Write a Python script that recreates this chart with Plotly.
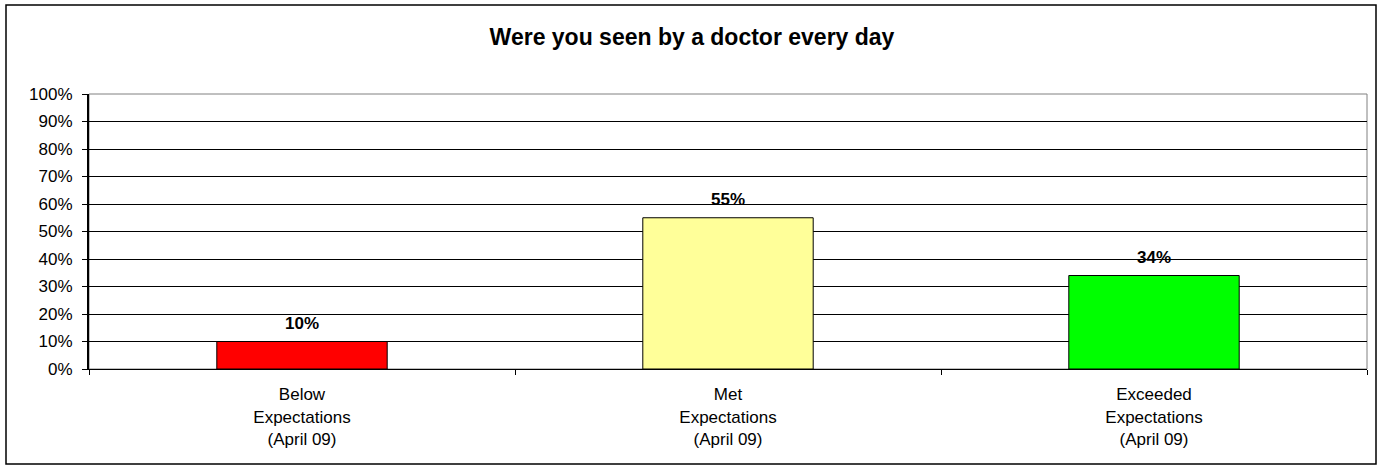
import plotly.graph_objects as go

# Survey results for one question
categories = [
    "Below<br>Expectations<br>(April 09)",
    "Met<br>Expectations<br>(April 09)",
    "Exceeded<br>Expectations<br>(April 09)",
]
values = [10, 55, 34]
value_labels = ["10%", "55%", "34%"]
bar_colors = ["#FF0000", "#FFFF99", "#00FF00"]
y_ticks = list(range(0, 101, 10))
y_tick_labels = [f"{v}%" for v in y_ticks]

W, H = 1384, 468
ML, MR, MT, MB = 89, 17, 94, 99
plot_w = W - ML - MR
plot_h = H - MT - MB

font = "Liberation Sans, Arial, sans-serif"

fig = go.Figure()
fig.add_trace(go.Bar(
    x=categories,
    y=values,
    width=0.4,
    marker=dict(color=bar_colors, line=dict(color="#000000", width=1)),
    hoverinfo="skip",
))

# Bold value labels above each bar
for cat, v, lab in zip(categories, values, value_labels):
    fig.add_annotation(
        x=cat, y=v, text=f"<b>{lab}</b>", showarrow=False,
        yanchor="bottom", yshift=7,
        font=dict(family=font, size=17, color="#000000"),
    )

# Outer chart border
def px_x(p):
    return (p - ML) / plot_w

def px_y(p):
    return (H - MB - p) / plot_h

fig.add_shape(
    type="rect", xref="paper", yref="paper",
    x0=px_x(6), x1=px_x(1376), y0=px_y(464), y1=px_y(5),
    line=dict(color="#000000", width=1.5), fillcolor="rgba(0,0,0,0)",
    layer="below",
)
# Plot area frame
fig.add_shape(
    type="rect", xref="paper", yref="paper",
    x0=0, x1=1, y0=0, y1=1,
    line=dict(color="#808080", width=1), fillcolor="rgba(0,0,0,0)",
    layer="below",
)

fig.update_layout(
    width=W, height=H,
    margin=dict(l=ML, r=MR, t=MT, b=MB),
    paper_bgcolor="#FFFFFF",
    plot_bgcolor="#FFFFFF",
    showlegend=False,
    title=dict(
        text="<b>Were you seen by a doctor every day</b>",
        x=0.5, xanchor="center", y=1 - 37 / H, yanchor="middle",
        font=dict(family=font, size=23, color="#000000"),
    ),
    font=dict(family=font, color="#000000"),
)

fig.update_xaxes(
    type="category",
    showgrid=False,
    showline=True, linecolor="#000000", linewidth=1,
    ticks="outside", tickson="boundaries", ticklen=5, tickcolor="#000000",
    tickfont=dict(family=font, size=17, color="#000000"),
    ticklabelstandoff=10,
    fixedrange=True,
)
fig.update_yaxes(
    range=[0, 100],
    tickvals=y_ticks, ticktext=y_tick_labels,
    showgrid=True, gridcolor="#000000", gridwidth=1,
    showline=True, linecolor="#000000", linewidth=2,
    ticks="outside", ticklen=5, tickcolor="#000000",
    tickfont=dict(family=font, size=17, color="#000000"),
    ticklabelstandoff=6,
    zeroline=False,
    fixedrange=True,
)

fig.write_html("out.html", config={"displayModeBar": False})
